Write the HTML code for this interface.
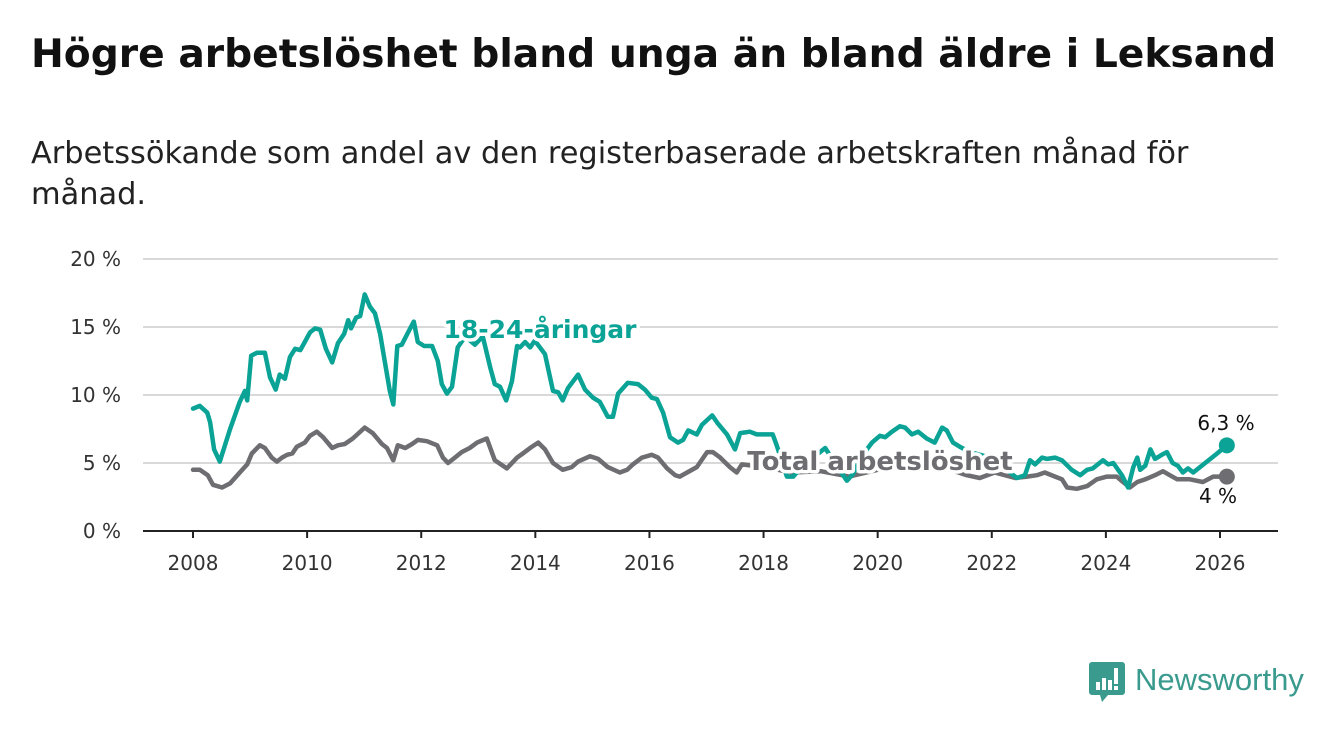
<!DOCTYPE html>
<html><head><meta charset="utf-8">
<style>
body{margin:0;background:#fff;font-family:"DejaVu Sans","Liberation Sans",sans-serif;}
#wrap{position:relative;width:1340px;height:734px;overflow:hidden;}
h1{position:absolute;left:31px;top:32px;margin:0;font-size:39.2px;font-weight:bold;color:#111;white-space:nowrap;}
.sub{position:absolute;left:31px;top:133px;margin:0;font-size:30.4px;line-height:41px;color:#222;width:1280px;white-space:nowrap;}
</style></head>
<body>
<div id="wrap">
<h1>Högre arbetslöshet bland unga än bland äldre i Leksand</h1>
<p class="sub">Arbetssökande som andel av den registerbaserade arbetskraften månad för<br>månad.</p>
<svg id="chart" width="1340" height="734" style="position:absolute;left:0;top:0"></svg>
<div style="position:absolute;left:1089px;top:662px;width:220px;height:42px;">
<svg width="36" height="42" style="position:absolute;left:0;top:0">
<path d="M3 0h30a3 3 0 0 1 3 3v27a3 3 0 0 1-3 3h-14l-6 7-2-7h-8a3 3 0 0 1-3-3v-27a3 3 0 0 1 3-3z" fill="#3a9a8e"/>
<rect x="7" y="20" width="4" height="8" fill="#fff"/><rect x="13" y="16" width="4" height="12" fill="#fff"/><rect x="19" y="18" width="4" height="10" fill="#fff"/><rect x="25" y="6" width="4" height="16" fill="#fff"/><rect x="25" y="24" width="4" height="4" fill="#fff"/>
</svg>
<span style="position:absolute;left:46px;top:0px;font-size:31px;color:#3a9a8e;font-family:'Liberation Sans',sans-serif;">Newsworthy</span>
</div>
</div>
<script>
const yTicks=[0,5,10,15,20];
const yTickLabels=["0 %","5 %","10 %","15 %","20 %"];
const xTicks=[2008,2010,2012,2014,2016,2018,2020,2022,2024,2026];
const youthYears=[2008.00,2008.12,2008.25,2008.30,2008.37,2008.47,2008.65,2008.82,2008.91,2008.95,2009.02,2009.12,2009.26,2009.35,2009.45,2009.52,2009.61,2009.70,2009.79,2009.88,2009.96,2010.05,2010.14,2010.23,2010.33,2010.44,2010.54,2010.65,2010.72,2010.77,2010.86,2010.93,2011.01,2011.10,2011.19,2011.28,2011.36,2011.45,2011.51,2011.58,2011.66,2011.77,2011.87,2011.94,2012.05,2012.19,2012.29,2012.36,2012.45,2012.54,2012.64,2012.77,2012.94,2013.08,2013.21,2013.29,2013.38,2013.49,2013.59,2013.68,2013.73,2013.82,2013.91,2013.99,2014.17,2014.31,2014.40,2014.48,2014.57,2014.75,2014.87,2015.01,2015.13,2015.27,2015.36,2015.45,2015.62,2015.80,2015.92,2016.04,2016.13,2016.24,2016.36,2016.50,2016.59,2016.68,2016.83,2016.92,2017.10,2017.20,2017.36,2017.50,2017.59,2017.76,2017.88,2018.06,2018.16,2018.23,2018.41,2018.52,2018.73,2018.90,2019.08,2019.25,2019.46,2019.57,2019.72,2019.90,2020.04,2020.13,2020.25,2020.39,2020.48,2020.60,2020.71,2020.86,2021.00,2021.13,2021.21,2021.32,2021.44,2021.62,2021.88,2022.14,2022.32,2022.44,2022.58,2022.67,2022.76,2022.88,2022.97,2023.11,2023.23,2023.40,2023.55,2023.67,2023.77,2023.95,2024.04,2024.13,2024.28,2024.39,2024.48,2024.55,2024.60,2024.69,2024.78,2024.86,2024.98,2025.07,2025.17,2025.26,2025.35,2025.44,2025.53,2025.65,2025.77,2025.95,2026.12];
const youthValues=[9.0,9.2,8.7,8.0,6.0,5.1,7.5,9.5,10.3,9.6,12.9,13.1,13.1,11.3,10.4,11.5,11.2,12.8,13.4,13.3,13.9,14.6,14.9,14.8,13.4,12.4,13.8,14.5,15.5,14.9,15.7,15.8,17.4,16.5,16.0,14.5,12.5,10.3,9.3,13.6,13.7,14.6,15.4,13.9,13.6,13.6,12.5,10.8,10.1,10.6,13.5,14.3,13.7,14.3,12.0,10.8,10.6,9.6,11.0,13.6,13.5,13.9,13.5,14.0,13.0,10.3,10.2,9.6,10.5,11.5,10.4,9.8,9.5,8.4,8.4,10.1,10.9,10.8,10.4,9.8,9.7,8.7,6.9,6.5,6.7,7.4,7.1,7.8,8.5,7.9,7.1,6.0,7.2,7.3,7.1,7.1,7.1,6.3,4.0,4.0,5.0,5.5,6.1,5.0,3.7,4.2,5.5,6.5,7.0,6.9,7.3,7.7,7.6,7.1,7.3,6.8,6.5,7.6,7.4,6.5,6.2,5.8,5.5,5.0,4.3,3.9,4.1,5.2,4.9,5.4,5.3,5.4,5.2,4.5,4.1,4.5,4.6,5.2,4.9,5.0,4.1,3.2,4.7,5.4,4.5,4.8,6.0,5.3,5.6,5.8,5.0,4.8,4.3,4.6,4.3,4.7,5.1,5.7,6.3];
const totalYears=[2008.0,2008.12,2008.26,2008.35,2008.51,2008.65,2008.82,2008.95,2009.03,2009.17,2009.26,2009.38,2009.47,2009.56,2009.65,2009.74,2009.82,2009.96,2010.05,2010.17,2010.28,2010.44,2010.54,2010.66,2010.80,2011.01,2011.15,2011.31,2011.40,2011.51,2011.59,2011.72,2011.84,2011.94,2012.10,2012.28,2012.38,2012.47,2012.59,2012.71,2012.85,2012.98,2013.15,2013.29,2013.50,2013.68,2013.78,2013.94,2014.05,2014.17,2014.31,2014.48,2014.64,2014.75,2014.96,2015.10,2015.27,2015.48,2015.61,2015.71,2015.87,2016.04,2016.15,2016.31,2016.45,2016.53,2016.66,2016.83,2017.01,2017.11,2017.24,2017.41,2017.53,2017.62,2018.0,2018.5,2019.0,2019.5,2020.0,2020.4,2020.8,2021.2,2021.56,2021.79,2022.05,2022.41,2022.62,2022.79,2022.93,2023.11,2023.23,2023.32,2023.49,2023.67,2023.84,2024.02,2024.19,2024.30,2024.42,2024.55,2024.69,2024.86,2025.0,2025.12,2025.25,2025.47,2025.70,2025.88,2026.12];
const totalValues=[4.5,4.5,4.1,3.4,3.2,3.5,4.3,4.9,5.7,6.3,6.1,5.4,5.1,5.4,5.6,5.7,6.2,6.5,7.0,7.3,6.9,6.1,6.3,6.4,6.8,7.6,7.2,6.4,6.1,5.2,6.3,6.1,6.4,6.7,6.6,6.3,5.4,5.0,5.4,5.8,6.1,6.5,6.8,5.2,4.6,5.4,5.7,6.2,6.5,6.0,5.0,4.5,4.7,5.1,5.5,5.3,4.7,4.3,4.5,4.9,5.4,5.6,5.4,4.6,4.1,4.0,4.3,4.7,5.8,5.8,5.4,4.7,4.3,4.9,4.7,4.3,4.4,4.0,4.5,5.3,5.0,4.6,4.1,3.9,4.3,3.9,4.0,4.1,4.3,4.0,3.8,3.2,3.1,3.3,3.8,4.0,4.0,3.6,3.2,3.6,3.8,4.1,4.4,4.1,3.8,3.8,3.6,4.0,4.0];

const NS="http://www.w3.org/2000/svg";
const FONT="DejaVu Sans, Liberation Sans, sans-serif";
const svg=document.getElementById('chart');
const X0=143,X1=1278;
function xs(yr){return 193+(yr-2008)*(1220-193)/18;}
function ys(v){return 531-v*(531-259)/20;}
function mk(tag,attrs,parent){const e=document.createElementNS(NS,tag);for(const k in attrs)e.setAttribute(k,attrs[k]);(parent||svg).appendChild(e);return e;}

yTicks.forEach((t,i)=>{
  if(t>0){const g=mk('line',{x1:X0,x2:X1,y1:ys(t),y2:ys(t),stroke:'#d9d9d9','stroke-width':2});
  
  }
  const l=mk('text',{x:121,y:ys(t)+7,'text-anchor':'end','font-size':20,fill:'#333','font-family':FONT});
  l.textContent=yTickLabels[i];
  
  
});
const ax=mk('line',{x1:X0,x2:X1,y1:531,y2:531,stroke:'#222','stroke-width':2});


xTicks.forEach(t=>{
  const tk=mk('line',{x1:xs(t),x2:xs(t),y1:531,y2:538,stroke:'#222','stroke-width':2});
  
  
  const l=mk('text',{x:xs(t),y:570,'text-anchor':'middle','font-size':20,fill:'#333','font-family':FONT});
  l.textContent=t;
  
  
});
function line(years,vals,color,name){
  const d=years.map((y,i)=>(i?'L':'M')+xs(y).toFixed(1)+' '+ys(vals[i]).toFixed(1)).join(' ');
  const p=mk('path',{d:d,fill:'none',stroke:color,'stroke-width':4.5,'stroke-linejoin':'round','stroke-linecap':'round'});
  
  
  const n=years.length-1;
  const c=mk('circle',{cx:xs(years[n]),cy:ys(vals[n]),r:8,fill:color});
  
  
}
line(totalYears,totalValues,'#6e6d72','total-line');
line(youthYears,youthValues,'#0aa396','youth-line');
function lab(txt,x,y,color,name,size,bold,halo){
  const t=mk('text',{x:x,y:y,fill:color,'font-size':size,'font-weight':bold?'bold':'normal','font-family':FONT,'text-anchor':'middle'});
  if(halo){t.setAttribute('stroke','#fff');t.setAttribute('stroke-width',7);t.setAttribute('paint-order','stroke');t.setAttribute('stroke-linejoin','round');}
  t.textContent=txt;
  
  
}
lab('18-24-åringar',540,338,'#0aa396','youth-series-label',25,true,true);
lab('Total arbetslöshet',880,470,'#6e6d72','total-series-label',26,true,true);
lab('6,3 %',1226,430,'#111','youth-end-value',20,false,false);
lab('4 %',1218,503,'#111','total-end-value',20,false,false);
</script>
</body></html>
